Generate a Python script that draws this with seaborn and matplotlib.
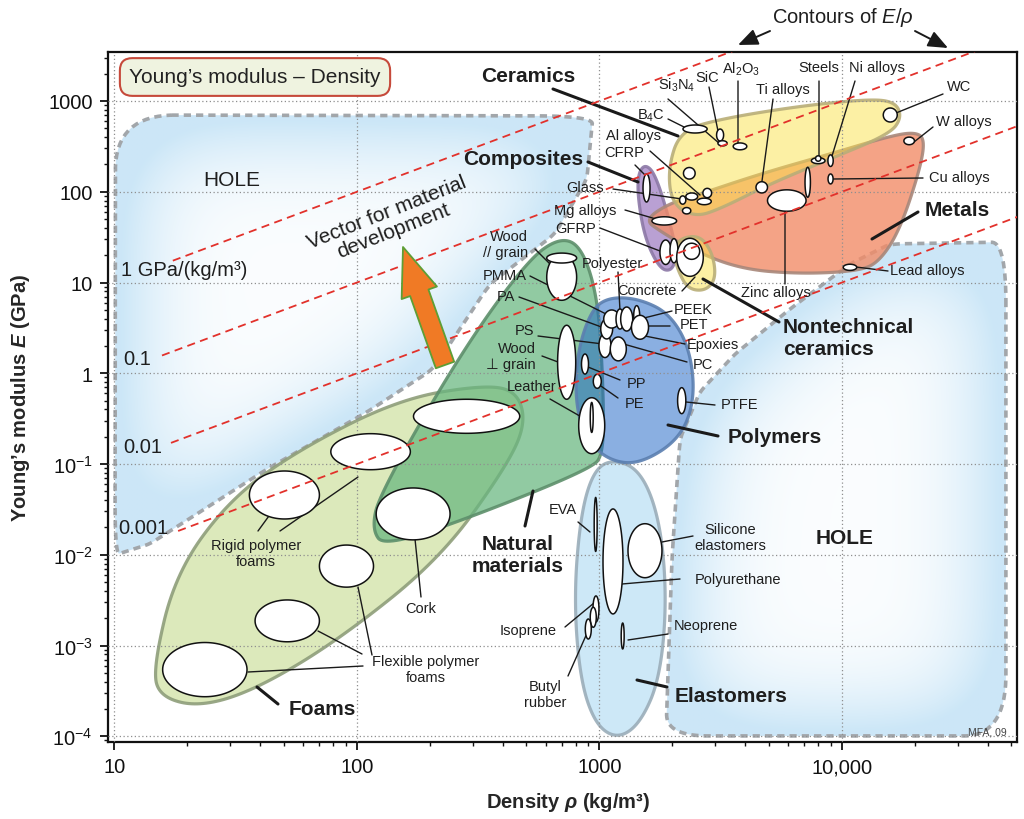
import numpy as np
import seaborn as sns
import matplotlib
matplotlib.use('Agg')
import matplotlib.pyplot as plt
from matplotlib.patches import Polygon
from matplotlib.path import Path
from matplotlib.ticker import LogLocator, NullFormatter

# ---- material bubbles: density range (kg/m^3) and modulus range (GPa)
mat_names = ['Flexible foam A', 'Flexible foam B', 'Flexible foam C', 'Rigid foam A', 'Rigid foam B',
             'Cork', 'Balsa', 'Wood // grain', 'Wood // grain end', 'Wood perp grain', 'Leather',
             'Leather core', 'PP', 'PE', 'PS', 'PA', 'PC', 'PMMA', 'Polyester', 'Epoxies', 'PEEK',
             'PET', 'PTFE', 'EVA', 'Polyurethane', 'Silicone elastomers', 'Isoprene', 'Natural rubber',
             'Butyl rubber', 'Neoprene', 'CFRP', 'GFRP', 'GFRP woven', 'Concrete', 'Stone', 'B4C',
             'SiC', 'Si3N4', 'Al2O3', 'WC', 'Glass ceramic', 'Silica glass', 'Soda glass', 'Al alloys',
             'Al alloys cast', 'Al alloys wrought', 'Mg alloys', 'Ti alloys', 'Zinc alloys',
             'Cast irons', 'Steels', 'Stainless steels', 'Ni alloys', 'Cu alloys', 'W alloys',
             'Lead alloys']
rho_lo = [15.8, 38, 70, 36, 78, 120, 171, 606, 606, 672, 821, 916, 843, 943, 995, 1012, 1108, 1041,
          1170, 1223, 1384, 1355, 2100, 951, 1034, 1311, 940, 916, 874, 1229, 1512, 1776, 1953,
          2082, 2225, 2210, 3040, 3080, 3560, 14800, 2220, 2140, 2200, 2270, 2670, 2530, 1645,
          4420, 4930, 7040, 7480, 7780, 8750, 8760, 18000, 10120]
rho_hi = [35.2, 70, 117, 70, 166, 242, 469, 805, 805, 798, 1051, 942, 901, 1017, 1115, 1133, 1290,
          1211, 1262, 1371, 1465, 1593, 2270, 978, 1250, 1810, 995, 970, 925, 1264, 1616, 1979,
          2107, 2679, 2589, 2780, 3250, 3360, 4050, 16900, 2480, 2270, 2380, 2540, 2900, 2890,
          2080, 4930, 7110, 7410, 8510, 8185, 9200, 9190, 19900, 11500]
E_lo = [2.73e-4, 1.10e-3, 4.4e-3, 0.0248, 0.0866, 0.0146, 0.218, 6.37, 16.4, 0.517, 0.130, 0.223,
        0.98, 0.683, 1.49, 2.39, 1.37, 3.15, 3.07, 2.92, 3.34, 2.37, 0.359, 0.0109, 2.23e-3,
        5.59e-3, 1.82e-3, 1.59e-3, 1.18e-3, 9.17e-4, 77.1, 15.8, 16.5, 11.7, 18.0, 444, 362,
        320, 290, 587, 138, 73, 57, 81, 86, 72, 43, 97, 61, 87, 204, 217, 190, 122, 330, 13.6]
E_hi = [1.08e-3, 3.18e-3, 0.0128, 0.0838, 0.216, 0.0545, 0.517, 20.5, 21.1, 3.38, 0.538, 0.477,
        1.63, 0.974, 2.73, 3.97, 2.51, 4.98, 5.11, 5.37, 5.56, 4.35, 0.694, 0.0428, 0.032,
        0.022, 3.52e-3, 2.64e-3, 1.96e-3, 1.77e-3, 157, 29.4, 30.4, 30.7, 27.1, 544, 491, 365,
        345, 837, 185, 90, 67, 97, 109, 85, 53, 129, 105, 186, 237, 249, 255, 157, 400, 15.9]

# ---- family envelopes, outline points (density, modulus)
foams_rho = [14.4, 17.8, 29.9, 58.2, 150, 331, 457, 498, 407, 220, 85.1, 38.7, 22.5, 15.4]
foams_E = [5.52e-4, 6.15e-3, 0.0412, 0.1465, 0.521, 0.743, 0.638, 0.276, 0.0881, 9.0e-3,
           1.18e-3, 3.32e-4, 2.10e-4, 2.71e-4]
natural_rho = [687, 847, 986, 1033, 1044, 914, 321, 130, 115, 124, 266, 502]
natural_E = [31.7, 24.6, 6.58, 0.865, 0.129, 0.0881, 0.0282, 0.0122, 0.0192, 0.0468, 1.63, 17.3]
polymers_rho = [1104, 1469, 1954, 2361, 2477, 2147, 1469, 1104, 871, 792, 815, 931]
polymers_E = [6.92, 6.58, 4.50, 1.85, 0.521, 0.189, 0.100, 0.108, 0.189, 0.521, 1.85, 5.11]
elastomers_rho = [1104, 1469, 1774, 1897, 1774, 1469, 1180, 958, 832, 785, 832, 931]
elastomers_E = [0.114, 0.0881, 0.0248, 3.26e-3, 4.28e-4, 1.37e-4, 9.33e-5, 1.37e-4, 4.28e-4,
                3.26e-3, 0.0248, 0.0776]
composites_rho = [1542, 1695, 1915, 2089, 1990, 1774, 1542, 1442, 1442]
composites_E = [202, 157, 56.9, 20.6, 13.4, 14.1, 30.2, 83.2, 157]
ceramics_rho = [1915, 2147, 3141, 6714, 13030, 16560, 17660, 15780, 8930, 5047, 3141, 2477, 1990]
ceramics_E = [178, 467, 634, 881, 1052, 975, 667, 433, 230, 122, 64.6, 52.7, 73.3]
metals_rho = [1540, 1915, 2594, 4592, 8930, 15780, 20000, 21980, 20990, 17380, 14360, 11860,
              6714, 3793, 2361, 1774]
metals_E = [49, 73.3, 94.4, 157, 261, 411, 455, 381, 178, 38.9, 17.3, 13.4, 12.4, 14.1, 23.4, 37.0]
nontech_rho = [2109, 2594, 2938, 3020, 2723, 2317, 2109, 2028]
nontech_E = [30.2, 33.4, 20.6, 10.9, 8.07, 8.49, 13.4, 20.6]
hole1_rho = [10.1, 940, 887, 655, 353, 206, 110, 42.6, 22.5, 14.0, 10.05]
hole1_E = [701, 684, 138, 34.3, 9.64, 1.11, 0.374, 0.0881, 0.0296, 0.0132, 9.95e-3]
hole2_rho = [47420, 47420, 1879, 1990, 2147, 2594, 3622, 6109, 10790, 15780]
hole2_E = [27.9, 1.01e-4, 1.01e-4, 9.0e-3, 0.189, 0.622, 1.63, 5.11, 16.0, 26.6]

# ---- contours of E/rho (GPa per kg/m^3) and where they start
contour_C = [1, 0.1, 0.01, 0.001]
contour_start = [17.4, 15.7, 17.1, 18.3]

x_ticks = [10, 100, 1000, 10000]
x_ticklabels = ['10', '100', '1000', '10,000']
y_ticks = [1e-4, 1e-3, 1e-2, 1e-1, 1, 10, 100, 1000]
y_ticklabels = ['$10^{-4}$', '$10^{-3}$', '$10^{-2}$', '$10^{-1}$', '1', '10', '100', '1000']

# ---- labels (figure pixels from top-left)
mat_labels = [
    ('Si$_3$N$_4$', 677, 85, 'center', [((668, 100), (720, 145))]),
    ('SiC', 707, 78, 'center', [((709, 88), (718, 132))]),
    ('Al$_2$O$_3$', 741, 69, 'center', [((738, 82), (738, 144))]),
    ('Ti alloys', 783, 90, 'center', [((773, 100), (762, 182))]),
    ('Steels', 819, 68, 'center', [((819, 82), (819, 158))]),
    ('Ni alloys', 877, 68, 'center', [((855, 82), (832, 157))]),
    ('WC', 959, 87, 'center', [((943, 95), (896, 114))]),
    ('W alloys', 964, 122, 'center', [((933, 128), (914, 143))]),
    ('Cu alloys', 959, 178, 'center', [((923, 179), (833, 180))]),
    ('B$_4$C', 651, 116, 'center', [((668, 120), (684, 128))]),
    ('Al alloys', 633, 136, 'center', [((650, 152), (700, 196))]),
    ('CFRP', 624, 153, 'center', [((635, 166), (646, 177))]),
    ('Glass', 585, 188, 'center', [((613, 190), (682, 200))]),
    ('Mg alloys', 585, 211, 'center', [((625, 211), (656, 220))]),
    ('GFRP', 576, 229, 'center', [((600, 229), (660, 252))]),
    ('Wood\n// grain', 528, 245, 'right', [((535, 250), (562, 277))]),
    ('PMMA', 527, 276, 'right', [((530, 277), (612, 318))]),
    ('PA', 506, 297, 'center', [((519, 298), (607, 330))]),
    ('Polyester', 612, 264, 'center', [((618, 273), (620, 312))]),
    ('Concrete', 647, 291, 'center', [((682, 292), (695, 278))]),
    ('PEEK', 693, 310, 'center', [((672, 312), (640, 320))]),
    ('PET', 694, 325, 'center', [((670, 327), (642, 327))]),
    ('Epoxies', 713, 345, 'center', [((685, 345), (645, 337))]),
    ('PC', 703, 365, 'center', [((687, 363), (620, 344))]),
    ('PS', 524, 331, 'center', [((538, 337), (603, 345))]),
    ('Wood\n\u22a5 grain', 536, 357, 'right', [((542, 357), (566, 366))]),
    ('Leather', 532, 387, 'center', [((550, 400), (585, 420))]),
    ('PP', 637, 384, 'center', [((620, 381), (588, 368))]),
    ('PE', 635, 404, 'center', [((618, 399), (598, 385))]),
    ('PTFE', 740, 405, 'center', [((715, 406), (686, 403))]),
    ('Zinc alloys', 776, 293, 'center', [((785, 285), (785, 213))]),
    ('Lead alloys', 927, 271, 'center', [((888, 272), (856, 268))]),
    ('EVA', 563, 510, 'center', [((578, 523), (590, 533))]),
    ('Silicone\nelastomers', 730, 538, 'center', [((693, 537), (662, 543))]),
    ('Polyurethane', 738, 580, 'center', [((680, 580), (622, 585))]),
    ('Neoprene', 706, 626, 'center', [((668, 635), (628, 641))]),
    ('Isoprene', 528, 631, 'center', [((565, 628), (594, 604))]),
    ('Butyl\nrubber', 545, 695, 'center', [((568, 677), (588, 632))]),
    ('Rigid polymer\nfoams', 256, 554, 'center', [((258, 532), (274, 510)), ((280, 532), (358, 478))]),
    ('Cork', 421, 609, 'center', [((421, 598), (415, 540))]),
    ('Flexible polymer\nfoams', 426, 670, 'center',
     [((363, 667), (248, 673)), ((362, 655), (318, 632)), ((372, 656), (358, 588))]),
]
family_labels = [
    ('Ceramics', 528, 77, 'center', ((553, 90), (678, 137))),
    ('Composites', 523, 160, 'center', ((588, 163), (638, 183))),
    ('Metals', 957, 211, 'center', ((918, 213), (872, 240))),
    ('Nontechnical\nceramics', 783, 339, 'left', ((779, 323), (703, 280))),
    ('Polymers', 775, 438, 'center', ((718, 437), (668, 426))),
    ('Natural\nmaterials', 518, 556, 'center', ((525, 527), (533, 492))),
    ('Foams', 322, 710, 'center', ((278, 705), (257, 688))),
    ('Elastomers', 731, 697, 'center', ((667, 688), (637, 681))),
]

W, H = 1024, 820
XLIM = (9.43, 52840)
YLIM = (8.72e-5, 3493)
LX, LY = np.log10(XLIM), np.log10(YLIM)

sns.set_style('white')
plt.rcParams['font.family'] = ['Liberation Sans', 'DejaVu Sans']
plt.rcParams['mathtext.fontset'] = 'custom'
plt.rcParams['mathtext.rm'] = 'Liberation Sans'
plt.rcParams['mathtext.it'] = 'Liberation Sans:italic'
plt.rcParams['mathtext.bf'] = 'Liberation Sans:bold:italic'

fig = plt.figure(figsize=(W / 100, H / 100), dpi=100)
ax = fig.add_axes([108.3 / W, (H - 742.7) / H, 909 / W, 690 / H])
ax.set_xscale('log')
ax.set_yscale('log')
ax.set_xlim(*XLIM)
ax.set_ylim(*YLIM)
ax.set_autoscale_on(False)


def fp(x, y):
    return (x, H - y)


def chaikin(pts, n_iter=4):
    for _ in range(n_iter):
        nxt = np.roll(pts, -1, axis=0)
        out = np.empty((2 * len(pts), 2))
        out[0::2] = 0.75 * pts + 0.25 * nxt
        out[1::2] = 0.25 * pts + 0.75 * nxt
        pts = out
    return pts


def densify(pts, m):
    nxt = np.roll(pts, -1, axis=0)
    return np.stack([pts + (nxt - pts) * k / m for k in range(m)], axis=1).reshape(-1, 2)


def outline(rho, E, m=1):
    pts = np.log10(np.column_stack([rho, E]))
    return 10 ** chaikin(densify(pts, m))


def hole(rho, E):
    xy = outline(rho, E, m=4)
    edge = Polygon(xy, closed=True, fc='none', ec='#a2a6aa', lw=2.6, ls=(0, (2.0, 1.4)), zorder=1.1)
    ax.add_patch(edge)
    fx = (np.log10(xy[:, 0]) - LX[0]) / (LX[1] - LX[0])
    fy = (np.log10(xy[:, 1]) - LY[0]) / (LY[1] - LY[0])
    gx, gy = np.meshgrid((np.arange(364) + 0.5) / 364, (np.arange(276) + 0.5) / 276)
    inside = Path(np.column_stack([fx, fy])).contains_points(np.column_stack([gx.ravel(), gy.ravel()]))
    inside = inside.reshape(gx.shape).astype(float)
    k = np.exp(-0.5 * (np.arange(-66, 67) / 22.0) ** 2)
    k /= k.sum()
    glow = np.apply_along_axis(np.convolve, 1, inside, k, mode='same')
    glow = np.apply_along_axis(np.convolve, 0, glow, k, mode='same')
    s = np.clip((1 - glow) * 2.0 + 0.08, 0, 1)
    rgba = np.ones(gx.shape + (4,))
    for i, c in enumerate((0.80, 0.905, 0.97)):
        rgba[..., i] = 1 - s * (1 - c)
    im = ax.imshow(rgba, extent=(0, 1, 0, 1), transform=ax.transAxes, origin='lower',
                   aspect='auto', interpolation='bilinear', zorder=1.0)
    im.set_clip_path(edge)


def envelope(rho, E, face, alpha, edge, z):
    xy = outline(rho, E)
    ax.add_patch(Polygon(xy, closed=True, fc=face, ec='none', alpha=alpha, zorder=z))
    ax.add_patch(Polygon(xy, closed=True, fc='none', ec=edge, lw=2.3, alpha=0.9, zorder=z + 0.01))


def leader(p, q, lw=1.0):
    ax.annotate('', xy=fp(*q), xytext=fp(*p), xycoords='figure pixels', textcoords='figure pixels',
                arrowprops=dict(arrowstyle='-', color='#1a1a1a', lw=lw, shrinkA=0, shrinkB=0),
                zorder=2.6, annotation_clip=False)


def put(text, x, y, size=10.5, weight='normal', ha='center', **kw):
    kw.setdefault('color', '#1e1e1e')
    kw.setdefault('linespacing', 1.15)
    ax.annotate(text, xy=fp(x, y), xycoords='figure pixels', ha=ha, va='center', fontsize=size,
                fontweight=weight, multialignment=ha, zorder=4, annotation_clip=False, **kw)


# holes
hole(hole1_rho, hole1_E)
hole(hole2_rho, hole2_E)

# family envelopes
envelope(foams_rho, foams_E, '#dce9bb', 1.0, '#8e9e7a', 1.20)
envelope(natural_rho, natural_E, '#67b67f', 0.72, '#5d8f6b', 1.30)
envelope(elastomers_rho, elastomers_E, '#cde8f7', 1.0, '#9aadb9', 1.40)
envelope(polymers_rho, polymers_E, '#1f66c6', 0.52, '#5b7fb0', 1.50)
envelope(composites_rho, composites_E, '#ad8fcc', 0.85, '#8c78a6', 1.60)
envelope(metals_rho, metals_E, '#f28c68', 0.80, '#a8877a', 1.70)
envelope(ceramics_rho, ceramics_E, '#fbe34b', 0.50, '#b9ae78', 1.80)
envelope(nontech_rho, nontech_E, '#fbe34b', 0.50, '#b9ae78', 1.85)

# grid above envelopes
ax.set_axisbelow(False)
ax.grid(True, which='major', color='#8f8f8f', lw=0.9, ls=(0, (1, 2)))
ax.grid(False, which='minor')

# material bubbles
t = np.linspace(0, 2 * np.pi, 120)
for lo, hi, elo, ehi in zip(rho_lo, rho_hi, E_lo, E_hi):
    cx, rx = np.log10(lo * hi) / 2, np.log10(hi / lo) / 2
    cy, ry = np.log10(elo * ehi) / 2, np.log10(ehi / elo) / 2
    ax.fill(10 ** (cx + rx * np.cos(t)), 10 ** (cy + ry * np.sin(t)), fc='white', ec='#111111',
            lw=1.1, zorder=3)

# contours of E/rho
for C, r0 in zip(contour_C, contour_start):
    rr = np.array([r0, XLIM[1] * 1.2])
    sns.lineplot(x=rr, y=C * rr, ax=ax, color='#e2312b', lw=1.3, linestyle=(0, (4.5, 3)), zorder=3.5)

# labels and leaders
for text, x, y, ha, lines in mat_labels:
    put(text, x, y, ha=ha)
    for p, q in lines:
        leader(p, q)
for text, x, y, ha, (p, q) in family_labels:
    put(text, x, y, size=15, weight='bold', ha=ha, linespacing=1.2)
    leader(p, q, lw=2.2)

put('HOLE', 232, 181, size=15)
put('HOLE', 845, 539, size=15, weight='bold')
put('1 GPa/(kg/m\u00b3)', 121, 271, size=14.5, ha='left')
put('0.1', 123, 360, size=14.5, ha='left')
put('0.01', 123, 448, size=14.5, ha='left')
put('0.001', 118, 529, size=14.5, ha='left')
put('MFA, 09', 987, 733, size=7.5, color='#444444')
put('Vector for material\ndevelopment', 390, 222, size=15, rotation=21.5,
    rotation_mode='anchor', linespacing=1.05)

ax.annotate('Young\u2019s modulus \u2013 Density', xy=fp(255, 78), xycoords='figure pixels',
            ha='center', va='center', fontsize=15, color='#222222', zorder=4,
            bbox=dict(boxstyle='round,pad=0.45,rounding_size=0.6', fc='#eff3e0', ec='#c64a3b', lw=1.5))

# orange development arrow
ax.annotate('', xy=fp(403, 248), xytext=fp(445, 366), xycoords='figure pixels',
            textcoords='figure pixels', zorder=3.8,
            arrowprops=dict(arrowstyle='simple,head_length=35,head_width=27,tail_width=14',
                            mutation_scale=1, fc='#f07a25', ec='#5e9e35', lw=1.3,
                            shrinkA=0, shrinkB=0))

# contours title with arrows
put('Contours of $E/\\rho$', 843, 18, size=14.5)
for p, q in [((770, 32), (738, 46)), ((915, 32), (948, 49))]:
    ax.annotate('', xy=fp(*q), xytext=fp(*p), xycoords='figure pixels', textcoords='figure pixels',
                annotation_clip=False,
                arrowprops=dict(arrowstyle='-|>,head_length=0.6,head_width=0.25', mutation_scale=20,
                                color='#1a1a1a', lw=1.4, shrinkA=0, shrinkB=0))

# axes styling
ax.set_xticks(x_ticks, x_ticklabels)
ax.set_yticks(y_ticks, y_ticklabels)
ax.xaxis.set_minor_locator(LogLocator(base=10, subs=np.arange(2, 10)))
ax.yaxis.set_minor_locator(LogLocator(base=10, subs=np.arange(2, 10)))
ax.xaxis.set_minor_formatter(NullFormatter())
ax.yaxis.set_minor_formatter(NullFormatter())
ax.tick_params(which='both', bottom=True, left=True, top=False, right=False, direction='out',
               colors='#111111')
ax.tick_params(which='major', length=5.8, width=1.3, labelsize=14.5, pad=5.5)
ax.tick_params(which='minor', length=3.2, width=1.0)
for sp in ax.spines.values():
    sp.set_color('#111111')
    sp.set_linewidth(1.6)
ax.set_xlabel('')
ax.set_ylabel('')
ax.set_xlim(*XLIM)
ax.set_ylim(*YLIM)

fig.text(568 / W, 1 - 803 / H, 'Density $\\mathbf{\\rho}$ (kg/m\u00b3)', ha='center', va='center',
         fontsize=14.5, fontweight='bold')
fig.text(21 / W, 1 - 398 / H, 'Young\u2019s modulus $\\mathbf{E}$ (GPa)', ha='center', va='center',
         fontsize=14.5, fontweight='bold', rotation=90)

fig.savefig('out.png', dpi=100, facecolor='white')
